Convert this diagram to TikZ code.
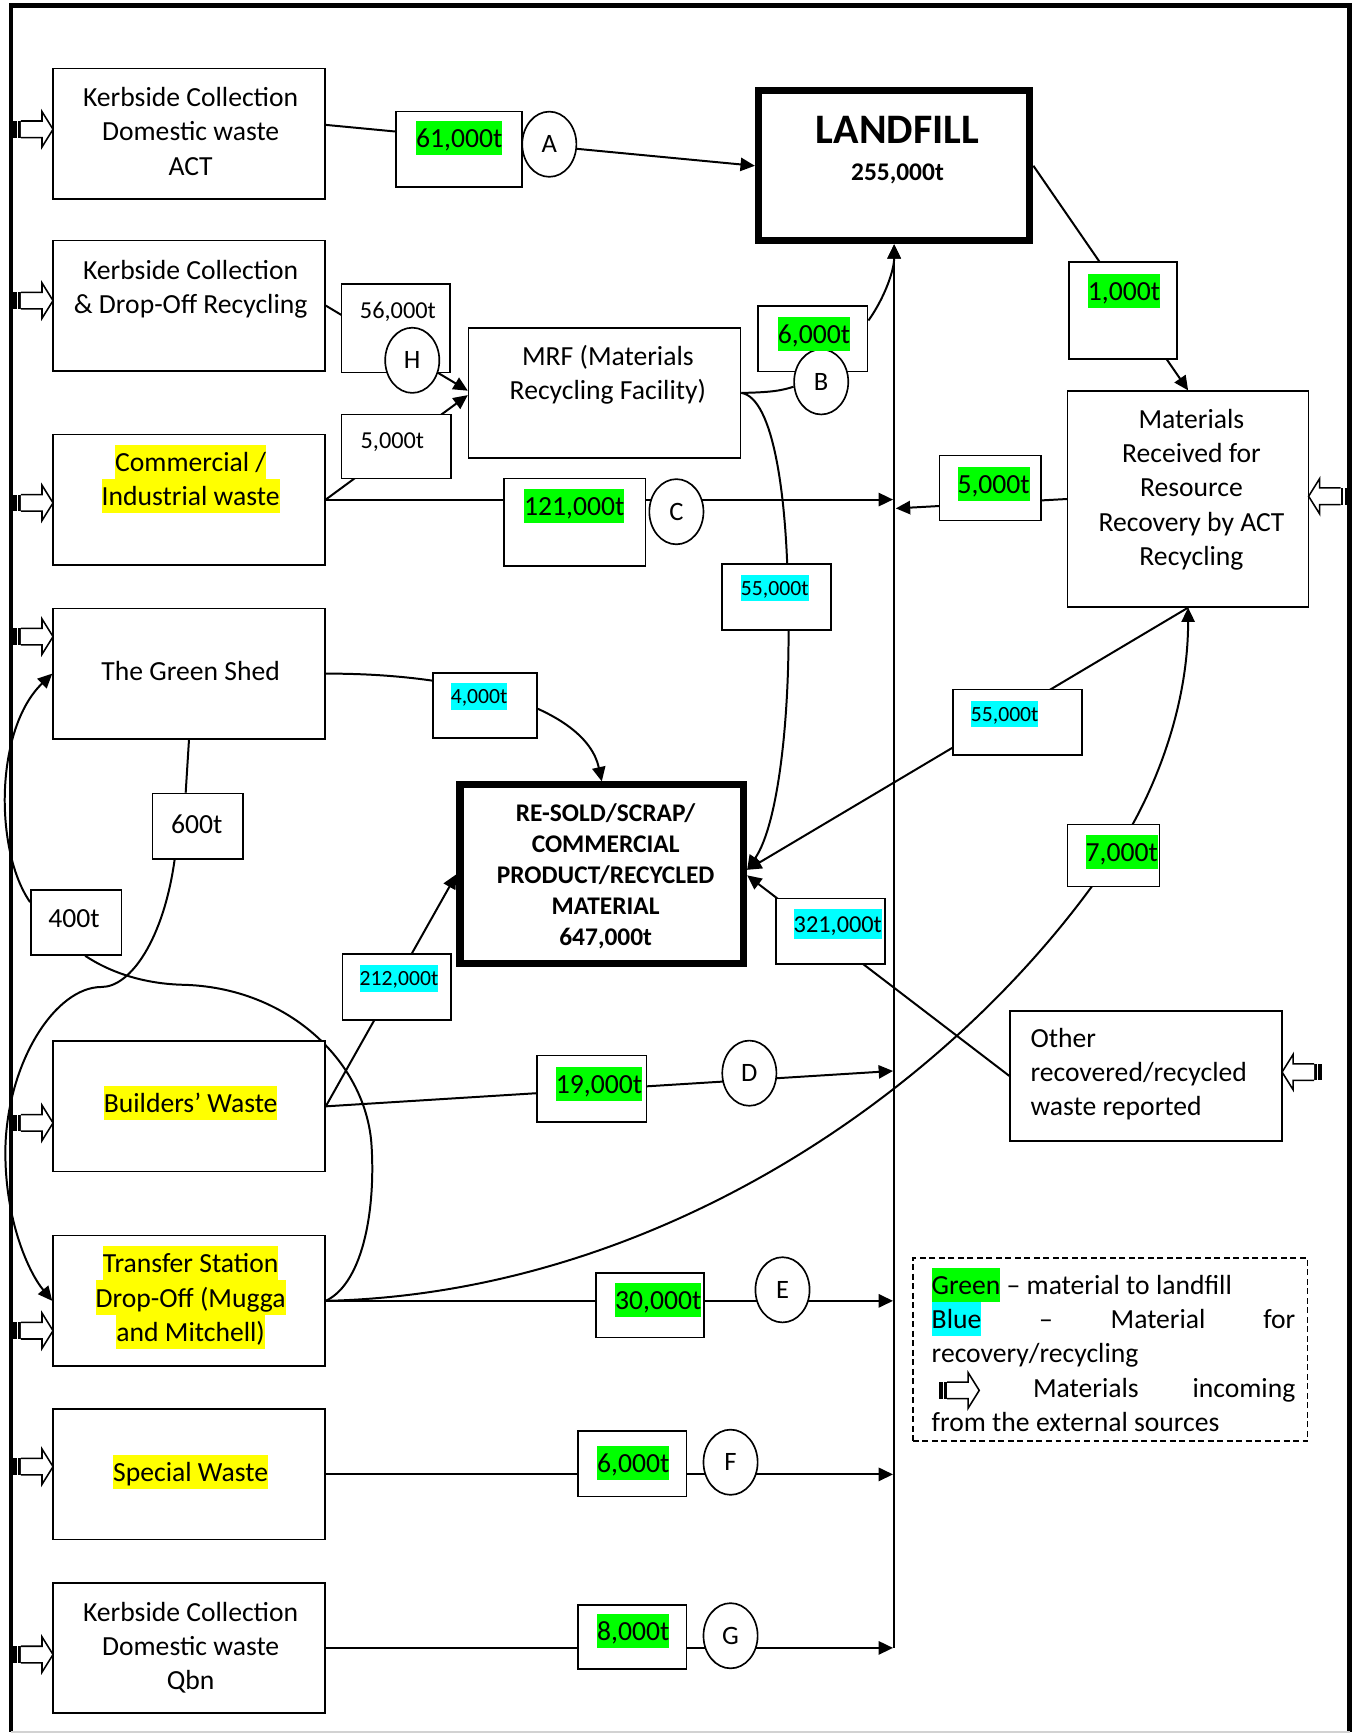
\documentclass[tikz,border=0pt]{standalone}
\usepackage{fontspec}
\setmainfont{Carlito}
\usetikzlibrary{arrows.meta,shapes.geometric,backgrounds}
\definecolor{hlgreen}{RGB}{0,255,0}
\definecolor{hlcyan}{RGB}{0,255,255}
\definecolor{hlyellow}{RGB}{255,255,0}
\newcommand\myfs[2]{\fontsize{#1}{#2}\selectfont}
\newcommand\bodyfs{\myfs{12.5}{15.5}}
\newcommand\sstrut{\rule[-0.275em]{0pt}{1.235em}}
\newcommand\hlc[2]{{\setlength{\fboxsep}{0pt}\colorbox{#1}{\sstrut#2}}}
\newcommand\hlg[1]{\hlc{hlgreen}{#1}}
\newcommand\hlb[1]{\hlc{hlcyan}{#1}}
\newcommand\hly[1]{\hlc{hlyellow}{#1}}
\newcommand\lgline[1]{\hbox to 164.5pt{\sstrut#1}}
\tikzset{
  inarr/.pic={
    \fill[black] (-36,-7.5) rectangle (-29,7.5);
    \draw[white,line width=0.5pt] (-32,-7.5) -- (-32,7.5);
    \draw[line width=0.7pt,fill=white] (-29,-7.5) -- (-10,-7.5) -- (-10,-16) -- (0,0) -- (-10,16) -- (-10,7.5) -- (-29,7.5);
  }
}
\begin{document}
\begin{tikzpicture}[x=0.5pt,y=-0.5pt,
  mbox/.style={draw,line width=0.75pt,fill=white,inner sep=0pt,minimum width=123pt,minimum height=59pt},
  tbox/.style={draw,line width=0.75pt,fill=white,inner sep=0pt},
  heavybox/.style={draw,line width=3.2pt,fill=white,inner sep=0pt},
  circ/.style={ellipse,draw,line width=0.75pt,fill=white,inner sep=0pt,minimum width=24.5pt,minimum height=29.5pt,font=\myfs{12}{14}},
  txt/.style={inner sep=0pt,align=center,font=\bodyfs},
  conn/.style={line width=0.9pt},
  arr/.style={conn,-{Triangle[length=6.5pt,width=6pt]}}]
\useasboundingbox (0,0) rectangle (1227,1568);

% frame
\draw[line width=2.2pt] (10,1567) -- (10,5) -- (1221,5) -- (1221,1567);
\draw[gray!35,line width=1pt] (10,1567) -- (1221,1567);

% main boxes
\node[mbox] (b1) at (171,121) {};
\node[mbox] (b2) at (171,276.5) {};
\node[mbox] (b3) at (171,452) {};
\node[mbox] (b4) at (171,609.5) {};
\node[mbox] (b5) at (171,1001) {};
\node[mbox] (b6) at (171,1177) {};
\node[mbox] (b7) at (171,1334) {};
\node[mbox] (b8) at (171,1491) {};
\node[txt] (b1t) at (172.5,119) {\sstrut Kerbside Collection\\\sstrut Domestic waste\\\sstrut ACT};
\node[txt] (b2t) at (172.5,259.5) {\sstrut Kerbside Collection\\\sstrut \& Drop-Off Recycling};
\node[txt] (b3t) at (172.5,433.5) {\hly{Commercial /}\\\hly{Industrial waste}};
\node[txt] (b4t) at (172.5,607) {\sstrut The Green Shed};
\node[txt] (b5t) at (172.5,998) {\hly{Builders’ Waste}};
\node[txt] (b6t) at (172.5,1174) {\hly{Transfer Station}\\\hly{Drop-Off (Mugga}\\\hly{and Mitchell)}};
\node[txt] (b7t) at (172.5,1332) {\hly{Special Waste}};
\node[txt] (b8t) at (172.5,1489.5) {\sstrut Kerbside Collection\\\sstrut Domestic waste\\\sstrut Qbn};

\node[mbox] (mrf) at (547,355.5) {};
\node[txt] (mrft) at (550,337.5) {\sstrut MRF (Materials\\\sstrut Recycling Facility)};
\node[tbox,minimum width=109pt,minimum height=97.5pt] (mr) at (1075,451.5) {};
\node[txt] (mrt) at (1078,441) {\sstrut Materials\\\sstrut Received for\\\sstrut Resource\\\sstrut Recovery by ACT\\\sstrut Recycling};
\node[mbox] (other) at (1037,973.5) {};
\node[txt,align=left,anchor=west] (othert) at (932,970) {\sstrut Other\\\sstrut recovered/recycled\\\sstrut waste reported};

\node[heavybox,minimum width=122.8pt,minimum height=67.8pt] (landfill) at (809,150) {};
\node[inner sep=0pt,anchor=base,font=\myfs{19}{23}\bfseries] (lft1) at (812,130) {LANDFILL};
\node[inner sep=0pt,anchor=base,font=\myfs{11.5}{14}\bfseries] (lft2) at (812,163) {255,000t};

\node[heavybox,minimum width=128.3pt,minimum height=80.8pt] (resold) at (544.5,791) {};
\node[txt,font=\myfs{11.5}{14}\bfseries] (resoldt) at (548,793) {RE-SOLD/SCRAP/\\COMMERCIAL\\PRODUCT/RECYCLED\\MATERIAL\\647,000t};

% tonnage boxes
\node[tbox,minimum width=57pt,minimum height=34pt] (bA) at (415,135) {};
\node[tbox,minimum width=49pt,minimum height=40pt] (bH) at (358,297) {};
\node[tbox,minimum width=49.5pt,minimum height=29pt] (b5k) at (358.5,404) {};
\node[tbox,minimum width=64pt,minimum height=39.5pt] (bC) at (520,472.5) {};
\node[tbox,minimum width=49.5pt,minimum height=29.5pt] (bB) at (735.5,306.5) {};
\node[tbox,minimum width=49pt,minimum height=44pt] (b1k) at (1016,281) {};
\node[tbox,minimum width=46pt,minimum height=29.5pt] (b5kr) at (896,441.5) {};
\node[tbox,minimum width=49.5pt,minimum height=30pt] (b55a) at (702.5,540) {};
\node[tbox,minimum width=47pt,minimum height=29.5pt] (b4k) at (439,638.5) {};
\node[tbox,minimum width=58.5pt,minimum height=29.5pt] (b55b) at (920.5,653.5) {};
\node[tbox,minimum width=41.5pt,minimum height=28pt] (b7k) at (1007.5,774) {};
\node[tbox,minimum width=41pt,minimum height=29.5pt] (b600) at (179,747.5) {};
\node[tbox,minimum width=41pt,minimum height=29.5pt] (b400) at (69,834.5) {};
\node[tbox,minimum width=49pt,minimum height=30pt] (b212) at (359,893) {};
\node[tbox,minimum width=49.5pt,minimum height=29.5pt] (b321) at (751.5,842.5) {};
\node[tbox,minimum width=49.5pt,minimum height=30pt] (b19) at (535.5,985) {};
\node[tbox,minimum width=49pt,minimum height=29pt] (b30) at (588,1181) {};
\node[tbox,minimum width=49pt,minimum height=29.5pt] (bF) at (572,1324.5) {};
\node[tbox,minimum width=49pt,minimum height=29pt] (bG) at (572,1481) {};

% circles
\node[circ] (cA) at (497,130.5) {A};
\node[circ] (cH) at (373,326) {H};
\node[circ] (cB) at (743,345.5) {B};
\node[circ] (cC) at (612,463) {C};
\node[circ] (cD) at (678,971) {D};
\node[circ] (cE) at (708,1167) {E};
\node[circ] (cF) at (661,1323) {F};
\node[circ] (cG) at (661,1480) {G};

% tonnage texts
\node[txt] (tA) at (415.5,125) {\hlg{61,000t}};
\node[txt,font=\myfs{11}{13}] (tH) at (360,281) {\sstrut 56,000t};
\node[txt,font=\myfs{11}{13}] (t5k) at (355,398) {\sstrut 5,000t};
\node[txt] (tC) at (519.5,458) {\hlg{121,000t}};
\node[txt] (tB) at (736.5,302) {\hlg{6,000t}};
\node[txt] (t1k) at (1017,263) {\hlg{1,000t}};
\node[txt] (t5kr) at (899,438) {\hlg{5,000t}};
\node[txt,font=\myfs{9.8}{12}] (t55a) at (701,532) {\hlb{55,000t}};
\node[txt,font=\myfs{9.8}{12}] (t4k) at (433.5,630) {\hlb{4,000t}};
\node[txt,font=\myfs{9.8}{12}] (t55b) at (909,646) {\hlb{55,000t}};
\node[txt] (t7k) at (1015,770.5) {\hlg{7,000t}};
\node[txt] (t600) at (178,746) {\sstrut 600t};
\node[txt] (t400) at (67,831) {\sstrut 400t};
\node[txt,font=\myfs{9.8}{12}] (t212) at (361,885) {\hlb{212,000t}};
\node[txt,font=\myfs{11}{13}] (t321) at (758,836) {\hlb{321,000t}};
\node[txt] (t19) at (542,981) {\hlg{19,000t}};
\node[txt] (t30) at (595.5,1176) {\hlg{30,000t}};
\node[txt] (tF) at (573,1324) {\hlg{6,000t}};
\node[txt] (tG) at (573,1476) {\hlg{8,000t}};

% collector points
\coordinate (jC) at (808,452);
\coordinate (jR) at (810.5,460);
\coordinate (jD) at (808,969);
\coordinate (jE) at (808,1177);
\coordinate (jF) at (808,1334);
\coordinate (jG) at (808,1491);
\coordinate (colbot) at (809,1491);

% legend
\node[draw,line width=0.75pt,dash pattern=on 2.7pt off 1.6pt,minimum width=178.5pt,minimum height=83pt,inner sep=0pt] (legendbox) at (1004.5,1221) {};
\node[inner sep=0pt,align=left,font=\bodyfs] (legendt) at (1007.5,1224.5) {\lgline{\hlg{Green} – material to landfill\hfil}\\\lgline{\hlb{Blue}\hfill–\hfill Material\hfill for}\\\lgline{recovery/recycling\hfil}\\\lgline{\hspace*{21.5pt}\hfill Materials\hfill incoming}\\\lgline{from the external sources\hfil}};

% connectors
\begin{scope}[on background layer]
\draw[arr] ([yshift=4pt]b1.east) -- (landfill.west);
\draw[arr] (b2.east) -- ([yshift=1pt]mrf.west);
\draw[arr] (b3.east) -- ([yshift=-1pt]mrf.west);
\draw[arr] (b3.east) -- (jC);
\draw[conn] (mrf.east) .. controls (700,355) and (708,353) .. (cB.190);
\draw[arr] ([yshift=8.25pt]bB.east) .. controls (800,270) and (809,245) .. (landfill.south);
\draw[arr,line width=1.2pt] (colbot) -- (landfill.south);
\draw[arr] (mrf.east) .. controls (700,360) and (712,450) .. ([xshift=5.25pt]b55a.center) .. controls (716,640) and (705,745) .. ([yshift=2pt]resold.east);
\draw[arr] (landfill.east) -- (mr.north);
\draw[arr] (mr.west) -- (jR);
\draw[arr] (mr.south) -- ([yshift=2pt]resold.east);
\draw[arr] (b6.east) .. controls (600,1170) and (870,980) .. (b7k.center) .. controls (1037,731) and (1075,650) .. (mr.south);
\draw[arr] (b4.east) .. controls (420,609) and (530,640) .. (resold.north);
\draw[conn] (b4.south) -- ([xshift=-5.5pt]b600.north);
\draw[arr] ([xshift=-10.5pt]b600.south) .. controls (148,850) and (118,893) .. (92,893) .. controls (50,893) and (8,960) .. (5,1035) .. controls (3,1100) and (25,1150) .. (b6.west);
\draw[arr] ([yshift=-6pt]b400.north west) .. controls (-5,770) and (-5,660) .. (b4.west);
\draw[conn] (b6.east) .. controls (330,1160) and (340,1090) .. (336,1034) .. controls (330,960) and (260,893) .. (165,891) .. controls (130,890) and (100,880) .. ([xshift=4pt]b400.south);
\draw[arr] (b5.east) -- (resold.west);
\draw[arr] (b5.east) -- (jD);
\draw[arr] (b6.east) -- (jE);
\draw[arr] (b7.east) -- (jF);
\draw[arr] (b8.east) -- (jG);
\draw[arr] (other.west) -- ([yshift=-0.5pt]resold.east);
\end{scope}

% incoming arrows
\foreach \yy in {117,272,455,576,1016,1204,1327,1497} {\pic at (48,\yy) {inarr};}
\pic[rotate=180] at (1184,449) {inarr};
\pic[rotate=180] at (1160,970) {inarr};
\pic at (886,1258) {inarr};
\end{tikzpicture}
\end{document}
